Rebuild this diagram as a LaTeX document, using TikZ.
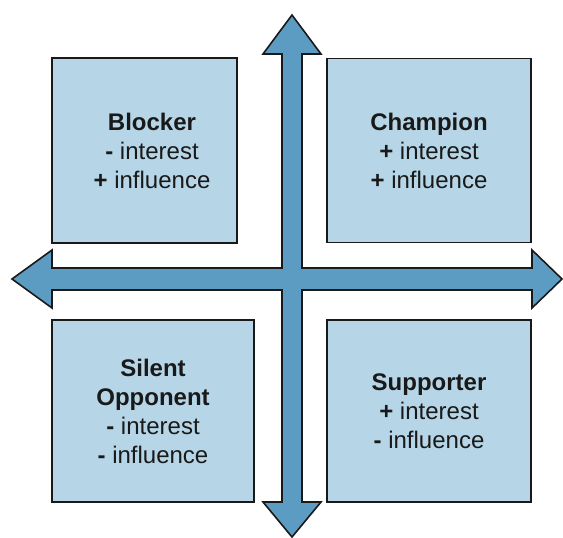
\documentclass[tikz,border=0pt]{standalone}
\usepackage{fontspec}
\setmainfont{Liberation Sans}
\usetikzlibrary{positioning}
\definecolor{boxblue}{RGB}{182,214,232}
\definecolor{crossblue}{RGB}{93,156,194}

\begin{document}
\begin{tikzpicture}[x=1pt,y=-1pt,
    quad/.style={draw=black!90, line width=1.6pt, fill=boxblue, inner sep=0pt},
    txt/.style={align=center, inner sep=0pt, text=black!90, font=\fontsize{24}{29}\selectfont},
    cross/.style={draw=black!90, line width=1.6pt, fill=crossblue, line join=miter}]

    \useasboundingbox (0,0) rectangle (563,538);

	% centre of the cross, the four tips follow
	\coordinate (C) at (292,279);
	\coordinate (N) at (292,15);
	\coordinate (S) at (292,537);
	\coordinate (W) at (12,279);
	\coordinate (E) at (562,279);

	% the cross with four arrow heads, as one outline
	\draw[cross] (N) -- (321,54) -- (302,54) -- (302,268) -- (532,268) -- (532,250)
		-- (E) -- (532,308) -- (532,290) -- (302,290) -- (302,502) -- (321,502)
		-- (S) -- (263,502) -- (282,502) -- (282,290) -- (52,290) -- (52,308)
		-- (W) -- (52,250) -- (52,268) -- (282,268) -- (282,54) -- (263,54) -- cycle;

	% the four quadrants
	\node[quad, minimum width=185pt, minimum height=185pt] (Blocker)   at (144.5,150.5) {};
	\node[quad, minimum width=204pt, minimum height=184pt] (Champion)  at (429,150.5) {};
	\node[quad, minimum width=202pt, minimum height=182pt] (Opponent)  at (153,411) {};
	\node[quad, minimum width=204pt, minimum height=182pt] (Supporter) at (429,411) {};

	% texts
	\node[txt] (BlockerText)   at ([xshift=7.5pt]Blocker) {\textbf{Blocker}\\\textbf{-} interest\\\textbf{+} influence};
	\node[txt] (ChampionText)  at (Champion)  {\textbf{Champion}\\\textbf{+} interest\\\textbf{+} influence};
	\node[txt] (OpponentText)  at (Opponent)  {\textbf{Silent}\\\textbf{Opponent}\\\textbf{-} interest\\\textbf{-} influence};
	\node[txt] (SupporterText) at (Supporter) {\textbf{Supporter}\\\textbf{+} interest\\\textbf{-} influence};

\end{tikzpicture}
\end{document}
